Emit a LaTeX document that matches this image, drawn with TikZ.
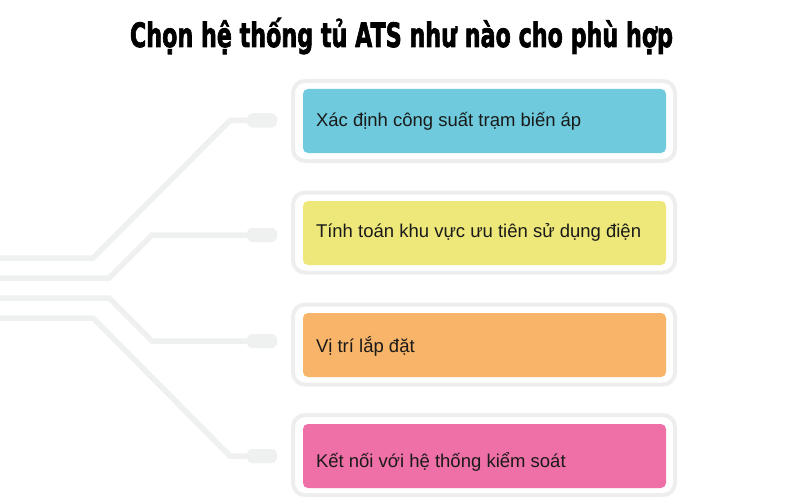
\documentclass[tikz,border=0pt]{standalone}
\usepackage{fontspec}
\setmainfont{Liberation Sans}
\newfontfamily\titlefont{DejaVu Sans}[BoldFeatures={FakeBold=2.5}]
\usetikzlibrary{calc}
\definecolor{ringgray}{HTML}{EEEEEE}
\definecolor{linegray}{HTML}{EFF0F0}
\definecolor{ccyan}{HTML}{6ECADC}
\definecolor{cyellow}{HTML}{EEE87A}
\definecolor{corange}{HTML}{F8B468}
\definecolor{cpink}{HTML}{EE70A6}
\definecolor{txt}{HTML}{1A1A1A}
\begin{document}
\begin{tikzpicture}[x=1pt,y=-1pt,
  ring/.style={draw=ringgray, line width=4pt, rounded corners=12pt, minimum width=382pt, minimum height=80pt, inner sep=0pt},
  card/.style={rounded corners=5pt, minimum width=363pt, minimum height=64pt, inner sep=0pt},
  cardtext/.style={anchor=base west, inner sep=0pt, text=txt, font=\fontsize{18.5}{22}\selectfont},
  pad/.style={fill=linegray, rounded corners=6pt, minimum width=30pt, minimum height=14pt, inner sep=0pt},
  wire/.style={draw=linegray, line width=5.5pt}]
\useasboundingbox (0,0) rectangle (800,500);
\fill[white] (0,0) rectangle (800,500);

% title
\node[anchor=base, inner sep=0pt] (title) at (401.5,47)
  {\resizebox{543pt}{\height}{\titlefont\bfseries\fontsize{33.5}{36}\selectfont Chọn hệ thống tủ ATS như nào cho phù hợp}};

% left ends
\coordinate (e1) at (0,258);
\coordinate (e2) at (0,278);
\coordinate (e3) at (0,298);
\coordinate (e4) at (0,318);

% pads (placed first to name them)
\node[pad] (p1) at (262,120.5) {};
\node[pad] (p2) at (262,235) {};
\node[pad] (p3) at (262,341) {};
\node[pad] (p4) at (262,456) {};

% wires
\draw[wire] (e1) -- (93,258) -- (230,120.5) -- (p1.west);
\draw[wire] (e2) -- (109,278) -- (152,235) -- (p2.west);
\draw[wire] (e3) -- (109,298) -- (152,341) -- (p3.west);
\draw[wire] (e4) -- (93,318) -- (230,456) -- (p4.west);

% pads on top of wires
\node[pad] at (p1) {};
\node[pad] at (p2) {};
\node[pad] at (p3) {};
\node[pad] at (p4) {};

% rings
\node[ring] (r1) at (484,121) {};
\node[ring] (r2) at (484,232.5) {};
\node[ring] (r3) at (484,344.5) {};
\node[ring] (r4) at (484,455) {};

% cards
\node[card, fill=ccyan] (c1) at (484.5,121) {};
\node[card, fill=cyellow] (c2) at (484.5,233) {};
\node[card, fill=corange] (c3) at (484.5,345) {};
\node[card, fill=cpink] (c4) at (484.5,456) {};

\node[cardtext] (t1) at ($(c1.west)+(13,5.7)$) {Xác định công suất trạm biến áp};
\node[cardtext] (t2) at ($(c2.west)+(13,4.3)$) {Tính toán khu vực ưu tiên sử dụng điện};
\node[cardtext] (t3) at ($(c3.west)+(13,7.7)$) {Vị trí lắp đặt};
\node[cardtext] (t4) at ($(c4.west)+(13,11.3)$) {Kết nối với hệ thống kiểm soát};
\end{tikzpicture}
\end{document}
